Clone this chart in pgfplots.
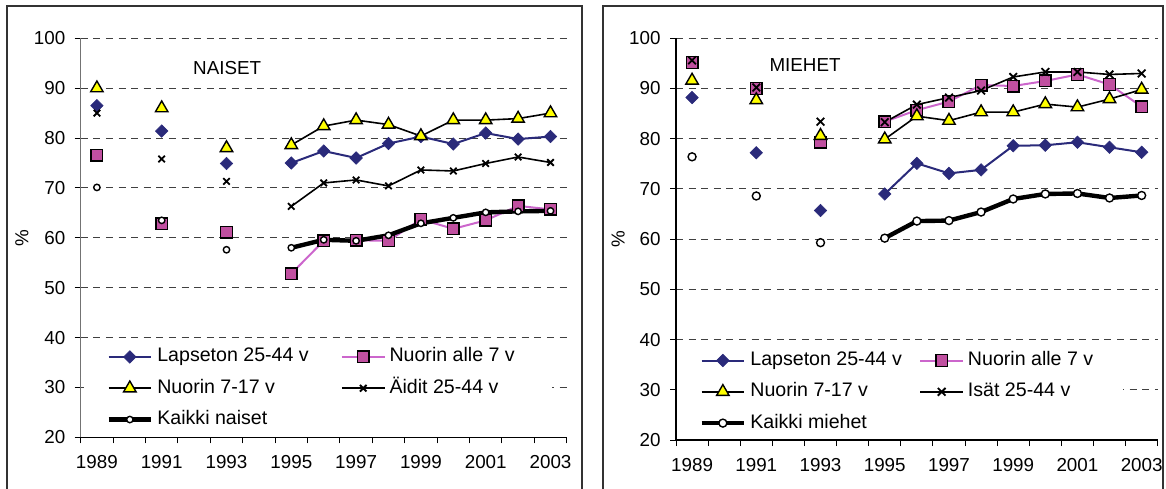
\documentclass[border=0pt]{standalone}
\usepackage{fontspec}
\setmainfont{Liberation Sans}
\usepackage{pgfplots}
\usepackage{pgfplotstable}
\pgfplotsset{compat=1.18}
\definecolor{navyc}{RGB}{42,42,122}
\definecolor{pinkfill}{RGB}{192,80,160}
\definecolor{pinkline}{RGB}{204,102,204}
\definecolor{yellc}{RGB}{255,255,0}
\newcommand\myfont{\fontsize{9.4}{11}\selectfont}
\newcommand\legfont{\fontsize{9.8}{11}\selectfont}

\pgfplotstableread{
year lap alle n717 par all
1989 86.5 76.6 90.0 85.0 70.1
1990 nan nan nan nan nan
1991 81.4 62.8 86.0 75.8 63.5
1992 nan nan nan nan nan
1993 74.9 61.1 78.0 71.3 57.6
1994 nan nan nan nan nan
1995 75.0 52.8 78.6 66.3 58.0
1996 77.4 59.4 82.4 71.0 59.6
1997 76.0 59.5 83.6 71.6 59.4
1998 78.9 59.4 82.7 70.4 60.5
1999 80.3 63.7 80.4 73.6 62.9
2000 78.8 61.8 83.6 73.4 64.0
2001 81.0 63.5 83.6 74.9 65.1
2002 79.8 66.4 83.9 76.2 65.3
2003 80.3 65.7 85.0 75.1 65.4
}\naiset

\pgfplotstableread{
year lap alle n717 par all
1989 88.2 95.2 91.6 95.6 76.4
1990 nan nan nan nan nan
1991 77.2 90.0 87.7 90.2 68.6
1992 nan nan nan nan nan
1993 65.7 79.3 80.6 83.4 59.3
1994 nan nan nan nan nan
1995 69.0 83.4 79.9 83.3 60.2
1996 75.1 85.7 84.5 86.8 63.6
1997 73.1 87.4 83.6 88.2 63.7
1998 73.8 90.7 85.3 89.6 65.4
1999 78.6 90.5 85.3 92.3 68.0
2000 78.7 91.5 86.9 93.3 69.0
2001 79.3 92.8 86.3 93.3 69.1
2002 78.3 90.8 87.9 92.8 68.2
2003 77.3 86.4 89.8 93.0 68.7
}\miehet

\pgfplotsset{
 panel/.style={
  scale only axis,
  axis x line*=bottom, axis y line*=left,
  axis line style={-, line width=0.6pt},
  xmin=1988.5, xmax=2003.5, ymin=20, ymax=100,
  xtick={1988.5,1989.5,...,2003.5},
  xticklabels={},
  extra x ticks={1989,1991,...,2003},
  extra x tick labels={1989,1991,1993,1995,1997,1999,2001,2003},
  extra x tick style={major tick length=0pt},
  xticklabel style={inner sep=0pt, yshift=-9pt},
  ytick={20,30,...,100},
  yticklabel style={inner sep=0pt, xshift=-4.5pt},
  tick align=outside,
  major tick length=3pt,
  tick style={black, line width=0.5pt},
  ymajorgrids,
  grid style={dash pattern=on 3.5pt off 2.8pt, black!75, line width=0.5pt},
  tick label style={font=\myfont},
  /pgf/number format/assume math mode=true,
  unbounded coords=jump,
  legend columns=2,
  legend cell align=left,
  legend image code/.code={\draw[mark repeat=2,mark phase=2,##1] plot coordinates {(0pt,0pt) (10.65pt,0pt) (21.3pt,0pt)};},
  legend style={draw=none, fill=white, font=\legfont, anchor=north west,
    inner xsep=11pt, inner ysep=3pt, column sep=2pt, row sep=6.65pt,
    nodes={inner sep=0pt, text height=7pt, text depth=2pt}},
  ylabel={\%},
 },
 lap/.style={color=navyc, line width=1pt, mark=square*, mark size=2.2pt,
   mark options={rotate=45, fill=navyc, draw=navyc, line width=0.3pt, solid}},
 alle/.style={color=pinkline, line width=1pt, mark=square*, mark size=2.9pt,
   mark options={fill=pinkfill, draw=black, line width=0.7pt, solid}},
 nse/.style={color=black, line width=0.8pt, mark=triangle*, mark size=3.6pt,
   mark options={fill=yellc, draw=black, line width=0.7pt, solid}},
 par/.style={color=black, line width=0.8pt, mark=x, mark size=#1,
   mark options={draw=black, line width=0.9pt, solid}},
 kaikki/.style={color=black, line width=2.2pt, mark=*, mark size=#1,
   mark options={fill=white, draw=black, line width=0.7pt, solid}},
}

\begin{document}
\begin{tikzpicture}
\useasboundingbox (0,0) rectangle (583pt,244pt);
\begin{scope}
\clip (0,0) rectangle (583pt,244pt);
\draw[line width=0.85pt, draw=black!80] (3.35pt,-10pt) rectangle (290.85pt,241.15pt);
\draw[line width=0.85pt, draw=black!80] (301.65pt,-10pt) rectangle (581.5pt,241.15pt);
\end{scope}

\begin{axis}[panel,
  at={(40.35pt,25.35pt)}, anchor=south west, width=243pt, height=199.5pt,
  y axis line style={black!55},
  every axis y label/.style={at={(axis description cs:-0.121,0.5)}, rotate=90, anchor=center, font=\myfont},
  legend style={at={(axis cs:1988.6,39.2)}}]
\addplot[lap] table[x=year,y=lap] {\naiset};
\addlegendentry{\makebox[89.8pt][l]{Lapseton 25-44 v}}
\addplot[alle] table[x=year,y=alle] {\naiset};
\addlegendentry{\makebox[70pt][l]{Nuorin alle 7 v}}
\addplot[nse] table[x=year,y=n717] {\naiset};
\addlegendentry{\makebox[89.8pt][l]{Nuorin 7-17 v}}
\addplot[par=2.3pt] table[x=year,y=par] {\naiset};
\addlegendentry{\makebox[70pt][l]{Äidit 25-44 v}}
\addplot[kaikki=1.6pt] table[x=year,y=all] {\naiset};
\addlegendentry{\makebox[89.8pt][l]{Kaikki naiset}}
\node[anchor=west, font=\myfont, inner sep=0pt] at (axis cs:1991.96,94) {NAISET};
\end{axis}

\begin{axis}[panel,
  at={(338pt,24pt)}, anchor=south west, width=240.85pt, height=200.85pt,
  every axis y label/.style={at={(axis description cs:-0.12,0.5)}, rotate=90, anchor=center, font=\myfont},
  legend style={at={(axis cs:1988.53,38.9)}}]
\addplot[lap] table[x=year,y=lap] {\miehet};
\addlegendentry{\makebox[82.5pt][l]{Lapseton 25-44 v}}
\addplot[alle] table[x=year,y=alle] {\miehet};
\addlegendentry{\makebox[66.5pt][l]{Nuorin alle 7 v}}
\addplot[nse] table[x=year,y=n717] {\miehet};
\addlegendentry{\makebox[82.5pt][l]{Nuorin 7-17 v}}
\addplot[par=2.7pt] table[x=year,y=par] {\miehet};
\addlegendentry{\makebox[66.5pt][l]{Isät 25-44 v}}
\addplot[kaikki=2pt] table[x=year,y=all] {\miehet};
\addlegendentry{\makebox[82.5pt][l]{Kaikki miehet}}
\node[anchor=west, font=\myfont, inner sep=0pt] at (axis cs:1991.4,94.7) {MIEHET};
\end{axis}
\end{tikzpicture}
\end{document}
